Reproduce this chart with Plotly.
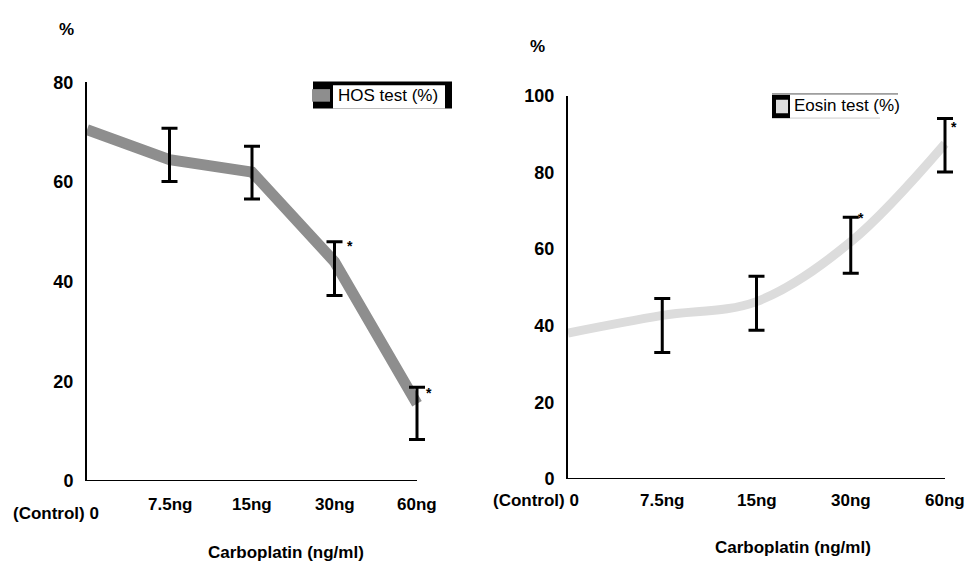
import plotly.graph_objects as go

W, H = 969, 571

categories = ["(Control) 0", "7.5ng", "15ng", "30ng", "60ng"]
hos_mean = [70.5, 64.5, 62.0, 44.0, 15.5]
hos_upper = [None, 70.8, 67.2, 48.0, 18.8]
hos_lower = [None, 60.1, 56.6, 37.2, 8.3]
hos_sig = [False, False, False, True, True]

eosin_mean = [38.1, 42.7, 46.3, 61.9, 87.5]
eosin_upper = [None, 47.1, 52.9, 68.3, 94.1]
eosin_lower = [None, 33.0, 38.8, 53.7, 80.1]
eosin_sig = [False, False, False, True, True]

left_yticks = [0, 20, 40, 60, 80]
right_yticks = [0, 20, 40, 60, 80, 100]

FONT = "Liberation Sans, Arial, sans-serif"
XPAD = 0.2  # extra room right of the last category so error caps are not clipped


def px(x):
    return x / W


def py(y):
    return 1 - y / H


xs = list(range(len(categories)))
n_last = len(categories) - 1

fig = go.Figure()


def add_panel(mean, upper, lower, color, width, shape, xa, ya):
    fig.add_trace(go.Scatter(
        x=xs, y=mean, mode="lines", line=dict(color=color, width=width, shape=shape),
        xaxis=xa, yaxis=ya, showlegend=False, hoverinfo="skip"))
    ex, ey, eplus, eminus = [], [], [], []
    for i, (m, u, l) in enumerate(zip(mean, upper, lower)):
        if u is None:
            continue
        ex.append(i)
        ey.append(m)
        eplus.append(u - m)
        eminus.append(m - l)
    fig.add_trace(go.Scatter(
        x=ex, y=ey, mode="markers", marker=dict(size=1, color="rgba(0,0,0,0)"),
        error_y=dict(type="data", symmetric=False, array=eplus, arrayminus=eminus,
                     color="black", thickness=3, width=8),
        xaxis=xa, yaxis=ya, showlegend=False, hoverinfo="skip", cliponaxis=False))


add_panel(hos_mean, hos_upper, hos_lower, "#8e8e8e", 11, "linear", "x", "y")
add_panel(eosin_mean, eosin_upper, eosin_lower, "#dcdcdc", 9, "spline", "x2", "y2")

axis_common = dict(showgrid=False, zeroline=False, ticks="", fixedrange=True)
yaxis_common = dict(showline=True, linecolor="black", linewidth=2, **axis_common)

# left panel: categories 0..4 from x=87 to x=417 px; right: 568 to 945 px
l_step = (417 - 87) / n_last
r_step = (945 - 568) / n_last

fig.update_layout(
    width=W, height=H,
    margin=dict(l=0, r=0, t=0, b=0),
    paper_bgcolor="white", plot_bgcolor="white",
    font=dict(family=FONT, color="black"),
    xaxis=dict(domain=[px(87), px(417 + XPAD * l_step)], range=[0, n_last + XPAD],
               showticklabels=False, showline=False, anchor="y", **axis_common),
    yaxis=dict(domain=[py(488), py(75)], range=[0, 80], tickvals=left_yticks,
               tickfont=dict(size=18, family=FONT, weight="bold"),
               ticklabelstandoff=8, anchor="x", **yaxis_common),
    xaxis2=dict(domain=[px(568), px(945 + XPAD * r_step)], range=[0, n_last + XPAD],
                showticklabels=False, showline=False, anchor="y2", **axis_common),
    yaxis2=dict(domain=[py(486), py(89)], range=[0, 100], tickvals=right_yticks,
                tickfont=dict(size=18, family=FONT, weight="bold"),
                ticklabelstandoff=8, anchor="x2", **yaxis_common),
)

ann = []
bold = dict(family=FONT, size=17, color="black", weight="bold")

# x tick labels
for xref, ylab, yctrl, ctrl_right in (("x", 512, 522, 101), ("x2", 508, 508, 581)):
    for i, c in enumerate(categories):
        if i == 0:
            ann.append(dict(x=px(ctrl_right), y=py(yctrl), xref="paper", yref="paper",
                            text=c, showarrow=False, xanchor="right", yanchor="middle",
                            font=bold))
        else:
            ann.append(dict(x=i, y=py(ylab), xref=xref, yref="paper", text=c,
                            showarrow=False, xanchor="center", yanchor="middle", font=bold))

# axis titles
ann.append(dict(x=px(286), y=py(562), xref="paper", yref="paper", text="Carboplatin (ng/ml)",
                showarrow=False, xanchor="center", yanchor="middle", font=bold))
ann.append(dict(x=px(793), y=py(557), xref="paper", yref="paper", text="Carboplatin (ng/ml)",
                showarrow=False, xanchor="center", yanchor="middle", font=bold))
ann.append(dict(x=px(66), y=py(20), xref="paper", yref="paper", text="%",
                showarrow=False, xanchor="center", yanchor="middle", font=bold))
ann.append(dict(x=px(537), y=py(38), xref="paper", yref="paper", text="%",
                showarrow=False, xanchor="center", yanchor="middle", font=bold))

# significance asterisks
star = dict(family=FONT, size=14, color="black", weight="bold")
for xref, yref, upper, sig, shifts in (
        ("x", "y", hos_upper, hos_sig, {3: (15, -4), 4: (12, -6)}),
        ("x2", "y2", eosin_upper, eosin_sig, {3: (10, -1), 4: (9, -9)})):
    for i, s in enumerate(sig):
        if s:
            dx, dy = shifts[i]
            ann.append(dict(x=i, y=upper[i], xref=xref, yref=yref, text="*", showarrow=False,
                            xanchor="center", yanchor="middle", xshift=dx, yshift=dy,
                            font=star))

# legend texts
ann.append(dict(x=px(336), y=py(89), xref="paper", yref="paper", text="HOS test (%)",
                showarrow=False, xanchor="left", yanchor="middle",
                font=dict(family=FONT, size=17, color="black")))
ann.append(dict(x=px(792), y=py(99), xref="paper", yref="paper", text="Eosin test (%)",
                showarrow=False, xanchor="left", yanchor="middle",
                font=dict(family=FONT, size=17, color="black")))

fig.update_layout(annotations=ann)


def rect(x0, y0, x1, y1, fill, line_w=0, line_c="black"):
    return dict(type="rect", xref="paper", yref="paper", x0=px(x0), x1=px(x1),
                y0=py(y1), y1=py(y0), fillcolor=fill,
                line=dict(width=line_w, color=line_c), layer="above")


shapes = [
    # x axis baselines, from the first to the last category
    dict(type="line", xref="x", yref="y", x0=0, x1=n_last, y0=0, y1=0,
         line=dict(color="black", width=2), layer="above"),
    dict(type="line", xref="x2", yref="y2", x0=0, x1=n_last, y0=0, y1=0,
         line=dict(color="black", width=2), layer="above"),
    # HOS legend frame
    rect(313, 74, 452, 102, "black"),
    rect(333, 78, 445, 102, "white"),
    rect(312, 82, 330, 95, "#8e8e8e"),
    # Eosin legend
    dict(type="line", xref="paper", yref="paper", x0=px(772), x1=px(898), y0=py(87), y1=py(87),
         line=dict(color="#555555", width=1)),
    dict(type="line", xref="paper", yref="paper", x0=px(772), x1=px(880), y0=py(112), y1=py(112),
         line=dict(color="#cccccc", width=1)),
    rect(772, 88, 790, 112, "black"),
    rect(776, 93, 788, 107, "#dcdcdc"),
]
fig.update_layout(shapes=shapes)

fig.write_html("out.html", config={"displayModeBar": False},
               post_script="document.body.style.margin='0px';")
